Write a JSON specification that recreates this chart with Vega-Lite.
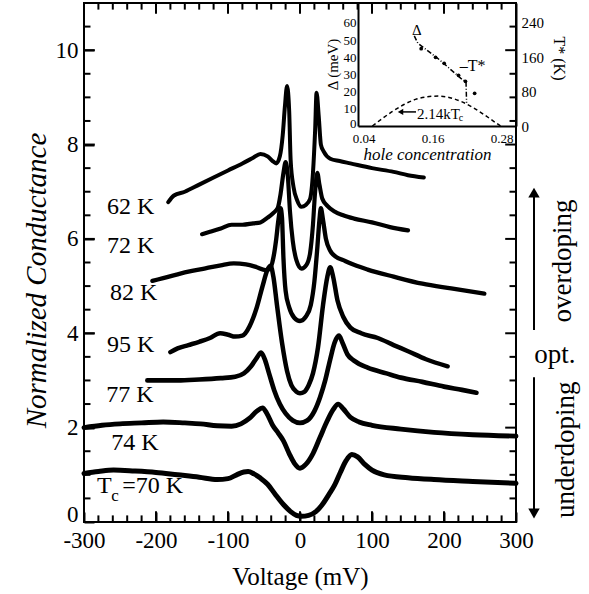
{
  "$schema": "https://vega.github.io/schema/vega-lite/v6.json",
  "width": 432,
  "height": 519,
  "autosize": {"type": "none"},
  "padding": {"left": 84, "top": 3, "right": 73, "bottom": 72},
  "background": "white",
  "config": {
    "view": {"stroke": "black", "strokeWidth": 2},
    "font": "Liberation Serif",
    "text": {"font": "Liberation Serif", "color": "black"}
  },
  "datasets": {
    "curves": [
      {"T":"62 K","V":-183,"G":6.78},{"T":"62 K","V":-175,"G":6.92},{"T":"62 K","V":-160,"G":7.0},{"T":"62 K","V":-140,"G":7.15},{"T":"62 K","V":-120,"G":7.3},{"T":"62 K","V":-100,"G":7.45},{"T":"62 K","V":-80,"G":7.6},{"T":"62 K","V":-65,"G":7.72},{"T":"62 K","V":-55,"G":7.8},{"T":"62 K","V":-45,"G":7.75},{"T":"62 K","V":-38,"G":7.65},{"T":"62 K","V":-33,"G":7.6},{"T":"62 K","V":-28,"G":7.75},{"T":"62 K","V":-24,"G":8.2},{"T":"62 K","V":-21,"G":8.8},{"T":"62 K","V":-18,"G":9.24},{"T":"62 K","V":-15,"G":8.7},{"T":"62 K","V":-13,"G":7.67},{"T":"62 K","V":-9,"G":7.1},{"T":"62 K","V":-4,"G":6.82},{"T":"62 K","V":2,"G":6.68},{"T":"62 K","V":8,"G":6.72},{"T":"62 K","V":14,"G":6.85},{"T":"62 K","V":18,"G":7.4},{"T":"62 K","V":21,"G":8.3},{"T":"62 K","V":23,"G":9.1},{"T":"62 K","V":26,"G":8.6},{"T":"62 K","V":29,"G":8.0},{"T":"62 K","V":33,"G":7.85},{"T":"62 K","V":42,"G":7.7},{"T":"62 K","V":55,"G":7.65},{"T":"62 K","V":70,"G":7.6},{"T":"62 K","V":100,"G":7.5},{"T":"62 K","V":130,"G":7.42},{"T":"62 K","V":150,"G":7.35},{"T":"62 K","V":172,"G":7.3},
      {"T":"72 K","V":-136,"G":6.1},{"T":"72 K","V":-125,"G":6.15},{"T":"72 K","V":-110,"G":6.22},{"T":"72 K","V":-95,"G":6.3},{"T":"72 K","V":-80,"G":6.3},{"T":"72 K","V":-65,"G":6.33},{"T":"72 K","V":-55,"G":6.35},{"T":"72 K","V":-45,"G":6.45},{"T":"72 K","V":-37,"G":6.55},{"T":"72 K","V":-31,"G":6.65},{"T":"72 K","V":-27,"G":6.95},{"T":"72 K","V":-23,"G":7.4},{"T":"72 K","V":-20,"G":7.63},{"T":"72 K","V":-17,"G":7.35},{"T":"72 K","V":-14,"G":6.6},{"T":"72 K","V":-10,"G":5.95},{"T":"72 K","V":-5,"G":5.55},{"T":"72 K","V":2,"G":5.37},{"T":"72 K","V":9,"G":5.45},{"T":"72 K","V":14,"G":5.7},{"T":"72 K","V":18,"G":6.3},{"T":"72 K","V":21,"G":7.0},{"T":"72 K","V":24,"G":7.4},{"T":"72 K","V":27,"G":7.15},{"T":"72 K","V":31,"G":6.85},{"T":"72 K","V":38,"G":6.7},{"T":"72 K","V":48,"G":6.58},{"T":"72 K","V":60,"G":6.5},{"T":"72 K","V":75,"G":6.43},{"T":"72 K","V":100,"G":6.35},{"T":"72 K","V":125,"G":6.25},{"T":"72 K","V":150,"G":6.18},
      {"T":"82 K","V":-205,"G":5.11},{"T":"82 K","V":-190,"G":5.17},{"T":"82 K","V":-170,"G":5.25},{"T":"82 K","V":-150,"G":5.32},{"T":"82 K","V":-130,"G":5.38},{"T":"82 K","V":-110,"G":5.44},{"T":"82 K","V":-92,"G":5.48},{"T":"82 K","V":-75,"G":5.46},{"T":"82 K","V":-60,"G":5.4},{"T":"82 K","V":-48,"G":5.34},{"T":"82 K","V":-42,"G":5.36},{"T":"82 K","V":-37,"G":5.6},{"T":"82 K","V":-33,"G":6.0},{"T":"82 K","V":-30,"G":6.4},{"T":"82 K","V":-27,"G":6.65},{"T":"82 K","V":-25,"G":6.45},{"T":"82 K","V":-23,"G":5.6},{"T":"82 K","V":-20,"G":4.9},{"T":"82 K","V":-15,"G":4.55},{"T":"82 K","V":-8,"G":4.33},{"T":"82 K","V":0,"G":4.26},{"T":"82 K","V":8,"G":4.35},{"T":"82 K","V":15,"G":4.6},{"T":"82 K","V":20,"G":5.1},{"T":"82 K","V":24,"G":5.8},{"T":"82 K","V":27,"G":6.4},{"T":"82 K","V":29,"G":6.65},{"T":"82 K","V":32,"G":6.4},{"T":"82 K","V":36,"G":6.0},{"T":"82 K","V":42,"G":5.75},{"T":"82 K","V":50,"G":5.62},{"T":"82 K","V":60,"G":5.55},{"T":"82 K","V":75,"G":5.45},{"T":"82 K","V":94,"G":5.35},{"T":"82 K","V":130,"G":5.2},{"T":"82 K","V":170,"G":5.05},{"T":"82 K","V":210,"G":4.95},{"T":"82 K","V":256,"G":4.84},
      {"T":"95 K","V":-180,"G":3.6},{"T":"95 K","V":-170,"G":3.68},{"T":"95 K","V":-155,"G":3.75},{"T":"95 K","V":-140,"G":3.82},{"T":"95 K","V":-125,"G":3.9},{"T":"95 K","V":-111,"G":4.0},{"T":"95 K","V":-100,"G":3.97},{"T":"95 K","V":-90,"G":3.93},{"T":"95 K","V":-80,"G":3.95},{"T":"95 K","V":-70,"G":4.15},{"T":"95 K","V":-60,"G":4.55},{"T":"95 K","V":-52,"G":5.0},{"T":"95 K","V":-45,"G":5.35},{"T":"95 K","V":-41,"G":5.43},{"T":"95 K","V":-37,"G":5.2},{"T":"95 K","V":-32,"G":4.6},{"T":"95 K","V":-25,"G":3.8},{"T":"95 K","V":-18,"G":3.2},{"T":"95 K","V":-12,"G":2.9},{"T":"95 K","V":-5,"G":2.76},{"T":"95 K","V":0,"G":2.73},{"T":"95 K","V":6,"G":2.76},{"T":"95 K","V":12,"G":2.9},{"T":"95 K","V":18,"G":3.15},{"T":"95 K","V":25,"G":3.7},{"T":"95 K","V":32,"G":4.6},{"T":"95 K","V":38,"G":5.2},{"T":"95 K","V":42,"G":5.4},{"T":"95 K","V":46,"G":5.2},{"T":"95 K","V":52,"G":4.7},{"T":"95 K","V":60,"G":4.35},{"T":"95 K","V":70,"G":4.12},{"T":"95 K","V":85,"G":4.0},{"T":"95 K","V":108,"G":3.9},{"T":"95 K","V":130,"G":3.75},{"T":"95 K","V":150,"G":3.62},{"T":"95 K","V":175,"G":3.45},{"T":"95 K","V":205,"G":3.3},
      {"T":"77 K","V":-212,"G":3.0},{"T":"77 K","V":-195,"G":3.0},{"T":"77 K","V":-170,"G":3.0},{"T":"77 K","V":-140,"G":3.02},{"T":"77 K","V":-110,"G":3.05},{"T":"77 K","V":-90,"G":3.08},{"T":"77 K","V":-78,"G":3.15},{"T":"77 K","V":-68,"G":3.3},{"T":"77 K","V":-60,"G":3.48},{"T":"77 K","V":-54,"G":3.59},{"T":"77 K","V":-49,"G":3.45},{"T":"77 K","V":-43,"G":3.15},{"T":"77 K","V":-36,"G":2.8},{"T":"77 K","V":-28,"G":2.5},{"T":"77 K","V":-20,"G":2.3},{"T":"77 K","V":-10,"G":2.15},{"T":"77 K","V":0,"G":2.1},{"T":"77 K","V":10,"G":2.15},{"T":"77 K","V":20,"G":2.35},{"T":"77 K","V":28,"G":2.65},{"T":"77 K","V":35,"G":3.0},{"T":"77 K","V":42,"G":3.45},{"T":"77 K","V":48,"G":3.8},{"T":"77 K","V":54,"G":3.95},{"T":"77 K","V":59,"G":3.8},{"T":"77 K","V":66,"G":3.55},{"T":"77 K","V":75,"G":3.42},{"T":"77 K","V":94,"G":3.27},{"T":"77 K","V":120,"G":3.15},{"T":"77 K","V":140,"G":3.06},{"T":"77 K","V":170,"G":2.97},{"T":"77 K","V":200,"G":2.87},{"T":"77 K","V":225,"G":2.8},{"T":"77 K","V":245,"G":2.74},
      {"T":"74 K","V":-300,"G":2.0},{"T":"74 K","V":-275,"G":2.05},{"T":"74 K","V":-250,"G":2.08},{"T":"74 K","V":-220,"G":2.1},{"T":"74 K","V":-190,"G":2.12},{"T":"74 K","V":-160,"G":2.1},{"T":"74 K","V":-138,"G":2.08},{"T":"74 K","V":-115,"G":2.04},{"T":"74 K","V":-95,"G":2.03},{"T":"74 K","V":-82,"G":2.08},{"T":"74 K","V":-70,"G":2.2},{"T":"74 K","V":-60,"G":2.35},{"T":"74 K","V":-52,"G":2.42},{"T":"74 K","V":-46,"G":2.3},{"T":"74 K","V":-38,"G":2.05},{"T":"74 K","V":-30,"G":1.88},{"T":"74 K","V":-23,"G":1.72},{"T":"74 K","V":-15,"G":1.45},{"T":"74 K","V":-8,"G":1.25},{"T":"74 K","V":0,"G":1.14},{"T":"74 K","V":8,"G":1.22},{"T":"74 K","V":18,"G":1.45},{"T":"74 K","V":28,"G":1.8},{"T":"74 K","V":38,"G":2.15},{"T":"74 K","V":46,"G":2.38},{"T":"74 K","V":53,"G":2.5},{"T":"74 K","V":60,"G":2.4},{"T":"74 K","V":70,"G":2.22},{"T":"74 K","V":82,"G":2.12},{"T":"74 K","V":100,"G":2.05},{"T":"74 K","V":140,"G":1.97},{"T":"74 K","V":186,"G":1.9},{"T":"74 K","V":240,"G":1.85},{"T":"74 K","V":300,"G":1.82},
      {"T":"70 K","V":-300,"G":1.03},{"T":"70 K","V":-280,"G":1.07},{"T":"70 K","V":-259,"G":1.1},{"T":"70 K","V":-230,"G":1.08},{"T":"70 K","V":-200,"G":1.05},{"T":"70 K","V":-170,"G":1.0},{"T":"70 K","V":-140,"G":0.95},{"T":"70 K","V":-115,"G":0.9},{"T":"70 K","V":-100,"G":0.92},{"T":"70 K","V":-88,"G":1.0},{"T":"70 K","V":-78,"G":1.06},{"T":"70 K","V":-72,"G":1.07},{"T":"70 K","V":-64,"G":1.02},{"T":"70 K","V":-55,"G":0.93},{"T":"70 K","V":-45,"G":0.8},{"T":"70 K","V":-35,"G":0.6},{"T":"70 K","V":-23,"G":0.37},{"T":"70 K","V":-13,"G":0.22},{"T":"70 K","V":-5,"G":0.14},{"T":"70 K","V":2,"G":0.12},{"T":"70 K","V":12,"G":0.14},{"T":"70 K","V":22,"G":0.22},{"T":"70 K","V":30,"G":0.35},{"T":"70 K","V":40,"G":0.58},{"T":"70 K","V":48,"G":0.78},{"T":"70 K","V":56,"G":1.05},{"T":"70 K","V":64,"G":1.3},{"T":"70 K","V":72,"G":1.43},{"T":"70 K","V":80,"G":1.38},{"T":"70 K","V":90,"G":1.22},{"T":"70 K","V":100,"G":1.1},{"T":"70 K","V":117,"G":1.0},{"T":"70 K","V":150,"G":0.94},{"T":"70 K","V":186,"G":0.9},{"T":"70 K","V":240,"G":0.86},{"T":"70 K","V":300,"G":0.82}
    ],
    "xmaj": [{"v":-200},{"v":-100},{"v":0},{"v":100},{"v":200}],
    "xmin": [{"v":-280},{"v":-260},{"v":-240},{"v":-220},{"v":-180},{"v":-160},{"v":-140},{"v":-120},{"v":-80},{"v":-60},{"v":-40},{"v":-20},{"v":20},{"v":40},{"v":60},{"v":80},{"v":120},{"v":140},{"v":160},{"v":180},{"v":220},{"v":240},{"v":260},{"v":280}],
    "ymaj": [{"v":2},{"v":4},{"v":6},{"v":8},{"v":10}],
    "ymin": [{"v":0.5},{"v":1},{"v":1.5},{"v":2.5},{"v":3},{"v":3.5},{"v":4.5},{"v":5},{"v":5.5},{"v":6.5},{"v":7},{"v":7.5},{"v":8.5},{"v":9},{"v":9.5},{"v":10.5}],
    "labels": [
      {"x":-268,"y":6.67,"t":"62 K"},{"x":-268,"y":5.86,"t":"72 K"},{"x":-264,"y":4.85,"t":"82 K"},{"x":-268,"y":3.76,"t":"95 K"},{"x":-269,"y":2.69,"t":"77 K"},{"x":-262,"y":1.67,"t":"74 K"},{"x":-282,"y":0.76,"t":"T"},{"x":-247,"y":0.76,"t":"=70 K"}
    ],
    "sublabels": [{"x":-262,"y":0.55,"t":"c"}],
    "sidetext": [
      {"x":365,"y":5.53,"t":"overdoping"},{"x":369,"y":1.53,"t":"underdoping"}
    ],
    "opt": [{"x":354,"y":3.54,"t":"opt."}],
    "arrows": [
      {"x":325,"y":4.07,"y2":7.0},{"x":325,"y":3.07,"y2":0.2}
    ],
    "heads_up": [{"x":325,"y":6.98}],
    "heads_down": [{"x":325,"y":0.18}],
    "dome": [
      {"p":0.055,"d":0},{"p":0.075,"d":5},{"p":0.09,"d":8.5},{"p":0.11,"d":12.5},{"p":0.13,"d":15.5},{"p":0.15,"d":17},{"p":0.17,"d":17.4},{"p":0.19,"d":16.5},{"p":0.21,"d":14.2},{"p":0.23,"d":10.8},{"p":0.25,"d":6.5},{"p":0.265,"d":3},{"p":0.278,"d":0}
    ],
    "gap": [
      {"p":0.14,"d":45},{"p":0.165,"d":40},{"p":0.18,"d":36.5},{"p":0.205,"d":29.5},{"p":0.217,"d":26},{"p":0.233,"d":19}
    ],
    "tstar": [
      {"p":0.128,"k":210},{"p":0.134,"k":193},{"p":0.172,"k":154},{"p":0.209,"k":111},{"p":0.218,"k":103},{"p":0.219,"k":54}
    ]
  },
  "resolve": {
    "scale": {"x": "independent", "y": "independent"},
    "axis": {"x": "independent", "y": "independent"}
  },
  "layer": [
    {
      "data": {"name": "curves"},
      "mark": {"type": "line", "interpolate": "monotone", "color": "black", "strokeCap": "round", "strokeJoin": "round"},
      "encoding": {
        "x": {"field": "V", "type": "quantitative",
          "scale": {"domain": [-300, 300], "nice": false, "zero": false},
          "axis": {"orient": "bottom", "offset": -10, "zindex": 1,
            "values": [-300,-200,-100,0,100,200,300],
            "labelExpr": "replace(datum.label, '−', '-')",
            "ticks": true, "tickSize": 10, "tickColor": "black", "tickWidth": 2, "domain": false, "grid": false,
            "labelPadding": 7, "labelFont": "Liberation Serif", "labelFontSize": 23, "labelColor": "black",
            "labelOverlap": false, "labelFlush": false,
            "title": "Voltage (mV)", "titleFont": "Liberation Serif", "titleFontSize": 25, "titleFontWeight": "normal", "titleColor": "black",
            "titleX": 216, "titleY": 64, "titleBaseline": "middle", "titleAlign": "center"}},
        "y": {"field": "G", "type": "quantitative",
          "scale": {"domain": [0, 11], "nice": false, "zero": false},
          "axis": {"orient": "left", "offset": -10, "zindex": 1,
            "values": [0,2,4,6,8,10],
            "format": "d",
            "ticks": true, "tickSize": 10, "tickColor": "black", "tickWidth": 2, "domain": false, "grid": false,
            "labelPadding": 6, "labelFont": "Liberation Serif", "labelFontSize": 23, "labelColor": "black",
            "labelOverlap": false, "labelFlush": true, "labelFlushOffset": 4,
            "title": "Normalized Conductance", "titleFont": "Liberation Serif", "titleFontSize": 29, "titleFontStyle": "italic", "titleFontWeight": "normal", "titleColor": "black",
            "titleX": -58, "titleY": 277, "titleBaseline": "middle", "titleAlign": "center", "titleAngle": 270}},
        "detail": {"field": "T", "type": "nominal"},
        "strokeWidth": {"field": "T", "type": "nominal",
          "scale": {"domain": ["62 K","72 K","82 K","95 K","77 K","74 K","70 K"], "range": [4, 5, 3, 5, 4, 3.5, 3]},
          "legend": null}
      }
    },
    {
      "data": {"name": "xmaj"},
      "mark": {"type": "rule", "color": "black", "strokeWidth": 2},
      "encoding": {
        "x": {"field": "v", "type": "quantitative", "scale": {"domain": [-300, 300], "nice": false, "zero": false}, "axis": null},
        "y": {"datum": 0, "type": "quantitative", "scale": {"domain": [0, 11], "nice": false, "zero": false}, "axis": null},
        "y2": {"datum": 0.23}
      }
    },
    {
      "data": {"name": "xmaj"},
      "mark": {"type": "rule", "color": "black", "strokeWidth": 2},
      "encoding": {
        "x": {"field": "v", "type": "quantitative", "scale": {"domain": [-300, 300], "nice": false, "zero": false}, "axis": null},
        "y": {"datum": 11, "type": "quantitative", "scale": {"domain": [0, 11], "nice": false, "zero": false}, "axis": null},
        "y2": {"datum": 10.77}
      }
    },
    {
      "data": {"name": "xmin"},
      "mark": {"type": "rule", "color": "black", "strokeWidth": 2},
      "encoding": {
        "x": {"field": "v", "type": "quantitative", "scale": {"domain": [-300, 300], "nice": false, "zero": false}, "axis": null},
        "y": {"datum": 0, "type": "quantitative", "scale": {"domain": [0, 11], "nice": false, "zero": false}, "axis": null},
        "y2": {"datum": 0.14}
      }
    },
    {
      "data": {"name": "xmin"},
      "mark": {"type": "rule", "color": "black", "strokeWidth": 2},
      "encoding": {
        "x": {"field": "v", "type": "quantitative", "scale": {"domain": [-300, 300], "nice": false, "zero": false}, "axis": null},
        "y": {"datum": 11, "type": "quantitative", "scale": {"domain": [0, 11], "nice": false, "zero": false}, "axis": null},
        "y2": {"datum": 10.86}
      }
    },
    {
      "data": {"name": "ymaj"},
      "mark": {"type": "rule", "color": "black", "strokeWidth": 2},
      "encoding": {
        "y": {"field": "v", "type": "quantitative", "scale": {"domain": [0, 11], "nice": false, "zero": false}, "axis": null},
        "x": {"datum": -300, "type": "quantitative", "scale": {"domain": [-300, 300], "nice": false, "zero": false}, "axis": null},
        "x2": {"datum": -285}
      }
    },
    {
      "data": {"name": "ymaj"},
      "mark": {"type": "rule", "color": "black", "strokeWidth": 2},
      "encoding": {
        "y": {"field": "v", "type": "quantitative", "scale": {"domain": [0, 11], "nice": false, "zero": false}, "axis": null},
        "x": {"datum": 300, "type": "quantitative", "scale": {"domain": [-300, 300], "nice": false, "zero": false}, "axis": null},
        "x2": {"datum": 285}
      }
    },
    {
      "data": {"name": "ymin"},
      "mark": {"type": "rule", "color": "black", "strokeWidth": 2},
      "encoding": {
        "y": {"field": "v", "type": "quantitative", "scale": {"domain": [0, 11], "nice": false, "zero": false}, "axis": null},
        "x": {"datum": -300, "type": "quantitative", "scale": {"domain": [-300, 300], "nice": false, "zero": false}, "axis": null},
        "x2": {"datum": -291}
      }
    },
    {
      "data": {"name": "ymin"},
      "mark": {"type": "rule", "color": "black", "strokeWidth": 2},
      "encoding": {
        "y": {"field": "v", "type": "quantitative", "scale": {"domain": [0, 11], "nice": false, "zero": false}, "axis": null},
        "x": {"datum": 300, "type": "quantitative", "scale": {"domain": [-300, 300], "nice": false, "zero": false}, "axis": null},
        "x2": {"datum": 291}
      }
    },
    {
      "data": {"name": "labels"},
      "mark": {"type": "text", "align": "left", "baseline": "middle", "fontSize": 24, "font": "Liberation Serif", "color": "black"},
      "encoding": {
        "x": {"field": "x", "type": "quantitative", "scale": {"domain": [-300, 300], "nice": false, "zero": false}, "axis": null},
        "y": {"field": "y", "type": "quantitative", "scale": {"domain": [0, 11], "nice": false, "zero": false}, "axis": null},
        "text": {"field": "t"}
      }
    },
    {
      "data": {"name": "sublabels"},
      "mark": {"type": "text", "align": "left", "baseline": "middle", "fontSize": 17, "font": "Liberation Serif", "color": "black"},
      "encoding": {
        "x": {"field": "x", "type": "quantitative", "scale": {"domain": [-300, 300], "nice": false, "zero": false}, "axis": null},
        "y": {"field": "y", "type": "quantitative", "scale": {"domain": [0, 11], "nice": false, "zero": false}, "axis": null},
        "text": {"field": "t"}
      }
    },
    {
      "data": {"name": "arrows"},
      "mark": {"type": "rule", "color": "black", "strokeWidth": 2},
      "encoding": {
        "x": {"field": "x", "type": "quantitative", "scale": {"domain": [-300, 300], "nice": false, "zero": false}, "axis": null},
        "y": {"field": "y", "type": "quantitative", "scale": {"domain": [0, 11], "nice": false, "zero": false}, "axis": null},
        "y2": {"field": "y2"}
      }
    },
    {
      "data": {"name": "heads_up"},
      "mark": {"type": "point", "shape": "triangle-up", "filled": true, "color": "black", "size": 130, "opacity": 1},
      "encoding": {
        "x": {"field": "x", "type": "quantitative", "scale": {"domain": [-300, 300], "nice": false, "zero": false}, "axis": null},
        "y": {"field": "y", "type": "quantitative", "scale": {"domain": [0, 11], "nice": false, "zero": false}, "axis": null}
      }
    },
    {
      "data": {"name": "heads_down"},
      "mark": {"type": "point", "shape": "triangle-down", "filled": true, "color": "black", "size": 130, "opacity": 1},
      "encoding": {
        "x": {"field": "x", "type": "quantitative", "scale": {"domain": [-300, 300], "nice": false, "zero": false}, "axis": null},
        "y": {"field": "y", "type": "quantitative", "scale": {"domain": [0, 11], "nice": false, "zero": false}, "axis": null}
      }
    },
    {
      "data": {"name": "sidetext"},
      "mark": {"type": "text", "align": "center", "baseline": "middle", "angle": 270, "fontSize": 27, "font": "Liberation Serif", "color": "black"},
      "encoding": {
        "x": {"field": "x", "type": "quantitative", "scale": {"domain": [-300, 300], "nice": false, "zero": false}, "axis": null},
        "y": {"field": "y", "type": "quantitative", "scale": {"domain": [0, 11], "nice": false, "zero": false}, "axis": null},
        "text": {"field": "t"}
      }
    },
    {
      "data": {"name": "opt"},
      "mark": {"type": "text", "align": "center", "baseline": "middle", "fontSize": 27, "font": "Liberation Serif", "color": "black"},
      "encoding": {
        "x": {"field": "x", "type": "quantitative", "scale": {"domain": [-300, 300], "nice": false, "zero": false}, "axis": null},
        "y": {"field": "y", "type": "quantitative", "scale": {"domain": [0, 11], "nice": false, "zero": false}, "axis": null},
        "text": {"field": "t"}
      }
    },
    {
      "data": {"name": "dome"},
      "mark": {"type": "line", "color": "black", "strokeWidth": 1.5, "strokeDash": [4, 3], "interpolate": "monotone"},
      "encoding": {
        "x": {"field": "p", "type": "quantitative",
          "scale": {"domain": [0.03, 0.305], "range": [274, 432], "nice": false, "zero": false},
          "axis": {"orient": "bottom", "offset": -396, "zindex": 1,
            "values": [0.04,0.16,0.28],
            "format": ".2f",
            "ticks": false,
            "domain": true, "domainColor": "black", "domainWidth": 2, "grid": false,
            "labelPadding": 6, "labelFont": "Liberation Serif", "labelFontSize": 13, "labelColor": "black",
            "labelOverlap": false, "labelFlush": false,
            "title": "hole concentration", "titleFont": "Liberation Serif", "titleFontSize": 17, "titleFontStyle": "italic", "titleFontWeight": "normal", "titleColor": "black",
            "titleX": 343, "titleY": 28, "titleBaseline": "middle", "titleAlign": "center"}},
        "y": {"field": "d", "type": "quantitative",
          "scale": {"domain": [0, 71.6], "range": [123, 0], "nice": false, "zero": false},
          "axis": {"orient": "left", "offset": -274, "zindex": 1,
            "values": [0,10,20,30,40,50,60],
            "ticks": false,
            "domain": true, "domainColor": "black", "domainWidth": 2, "grid": false,
            "labelPadding": 2, "labelFont": "Liberation Serif", "labelFontSize": 13, "labelColor": "black",
            "labelOverlap": false, "labelFlush": true, "labelFlushOffset": 4,
            "title": "Δ (meV)", "titleFont": "Liberation Serif", "titleFontSize": 15, "titleFontWeight": "normal", "titleColor": "black",
            "titleX": -26, "titleY": 61, "titleBaseline": "middle", "titleAlign": "center", "titleAngle": 270}}
      }
    },
    {
      "data": {"name": "gap"},
      "mark": {"type": "point", "filled": true, "color": "black", "size": 14, "opacity": 1},
      "encoding": {
        "x": {"field": "p", "type": "quantitative", "scale": {"domain": [0.03, 0.305], "range": [274, 432], "nice": false, "zero": false}, "axis": null},
        "y": {"field": "d", "type": "quantitative", "scale": {"domain": [0, 71.6], "range": [123, 0], "nice": false, "zero": false}, "axis": null}
      }
    },
    {
      "data": {"values": [{"p": 0.124, "d": 56, "t": "Δ"}, {"p": 0.1327, "d": 7.2, "t": "2.14kT"}]},
      "mark": {"type": "text", "align": "left", "baseline": "middle", "fontSize": 15, "font": "Liberation Serif", "color": "black"},
      "encoding": {
        "x": {"field": "p", "type": "quantitative", "scale": {"domain": [0.03, 0.305], "range": [274, 432], "nice": false, "zero": false}, "axis": null},
        "y": {"field": "d", "type": "quantitative", "scale": {"domain": [0, 71.6], "range": [123, 0], "nice": false, "zero": false}, "axis": null},
        "text": {"field": "t"}
      }
    },
    {
      "data": {"values": [{"p": 0.2055, "d": 4.6, "t": "c"}]},
      "mark": {"type": "text", "align": "left", "baseline": "middle", "fontSize": 10, "font": "Liberation Serif", "color": "black"},
      "encoding": {
        "x": {"field": "p", "type": "quantitative", "scale": {"domain": [0.03, 0.305], "range": [274, 432], "nice": false, "zero": false}, "axis": null},
        "y": {"field": "d", "type": "quantitative", "scale": {"domain": [0, 71.6], "range": [123, 0], "nice": false, "zero": false}, "axis": null},
        "text": {"field": "t"}
      }
    },
    {
      "data": {"values": [{"p": 0.131, "p2": 0.104, "d": 8.2}]},
      "mark": {"type": "rule", "color": "black", "strokeWidth": 1.5},
      "encoding": {
        "x": {"field": "p", "type": "quantitative", "scale": {"domain": [0.03, 0.305], "range": [274, 432], "nice": false, "zero": false}, "axis": null},
        "x2": {"field": "p2"},
        "y": {"field": "d", "type": "quantitative", "scale": {"domain": [0, 71.6], "range": [123, 0], "nice": false, "zero": false}, "axis": null}
      }
    },
    {
      "data": {"values": [{"p": 0.104, "d": 8.2}]},
      "mark": {"type": "point", "shape": "triangle-left", "filled": true, "color": "black", "size": 40, "opacity": 1},
      "encoding": {
        "x": {"field": "p", "type": "quantitative", "scale": {"domain": [0.03, 0.305], "range": [274, 432], "nice": false, "zero": false}, "axis": null},
        "y": {"field": "d", "type": "quantitative", "scale": {"domain": [0, 71.6], "range": [123, 0], "nice": false, "zero": false}, "axis": null}
      }
    },
    {
      "data": {"name": "tstar"},
      "mark": {"type": "line", "color": "black", "strokeWidth": 1.5, "strokeDash": [5, 2, 1, 2]},
      "encoding": {
        "x": {"field": "p", "type": "quantitative", "scale": {"domain": [0.03, 0.305], "range": [274, 432], "nice": false, "zero": false}, "axis": null},
        "y": {"field": "k", "type": "quantitative",
          "scale": {"domain": [0, 286.4], "range": [123, 0], "nice": false, "zero": false},
          "axis": {"orient": "right", "zindex": 1,
            "values": [0, 80, 160, 240],
            "ticks": false,
            "domain": true, "domainColor": "black", "domainWidth": 2, "grid": false,
            "labelPadding": 5, "labelFont": "Liberation Serif", "labelFontSize": 15, "labelColor": "black",
            "labelOverlap": false, "labelFlush": false,
            "title": "T* (K)", "titleFont": "Liberation Serif", "titleFontSize": 16, "titleFontWeight": "normal", "titleColor": "black",
            "titleX": 42, "titleY": 55, "titleBaseline": "middle", "titleAlign": "center", "titleAngle": 90}}
      }
    },
    {
      "data": {"values": [{"p": 0.207, "k": 140, "t": "–T*"}]},
      "mark": {"type": "text", "align": "left", "baseline": "middle", "fontSize": 16, "font": "Liberation Serif", "color": "black"},
      "encoding": {
        "x": {"field": "p", "type": "quantitative", "scale": {"domain": [0.03, 0.305], "range": [274, 432], "nice": false, "zero": false}, "axis": null},
        "y": {"field": "k", "type": "quantitative", "scale": {"domain": [0, 286.4], "range": [123, 0], "nice": false, "zero": false}, "axis": null},
        "text": {"field": "t"}
      }
    }
  ]
}
